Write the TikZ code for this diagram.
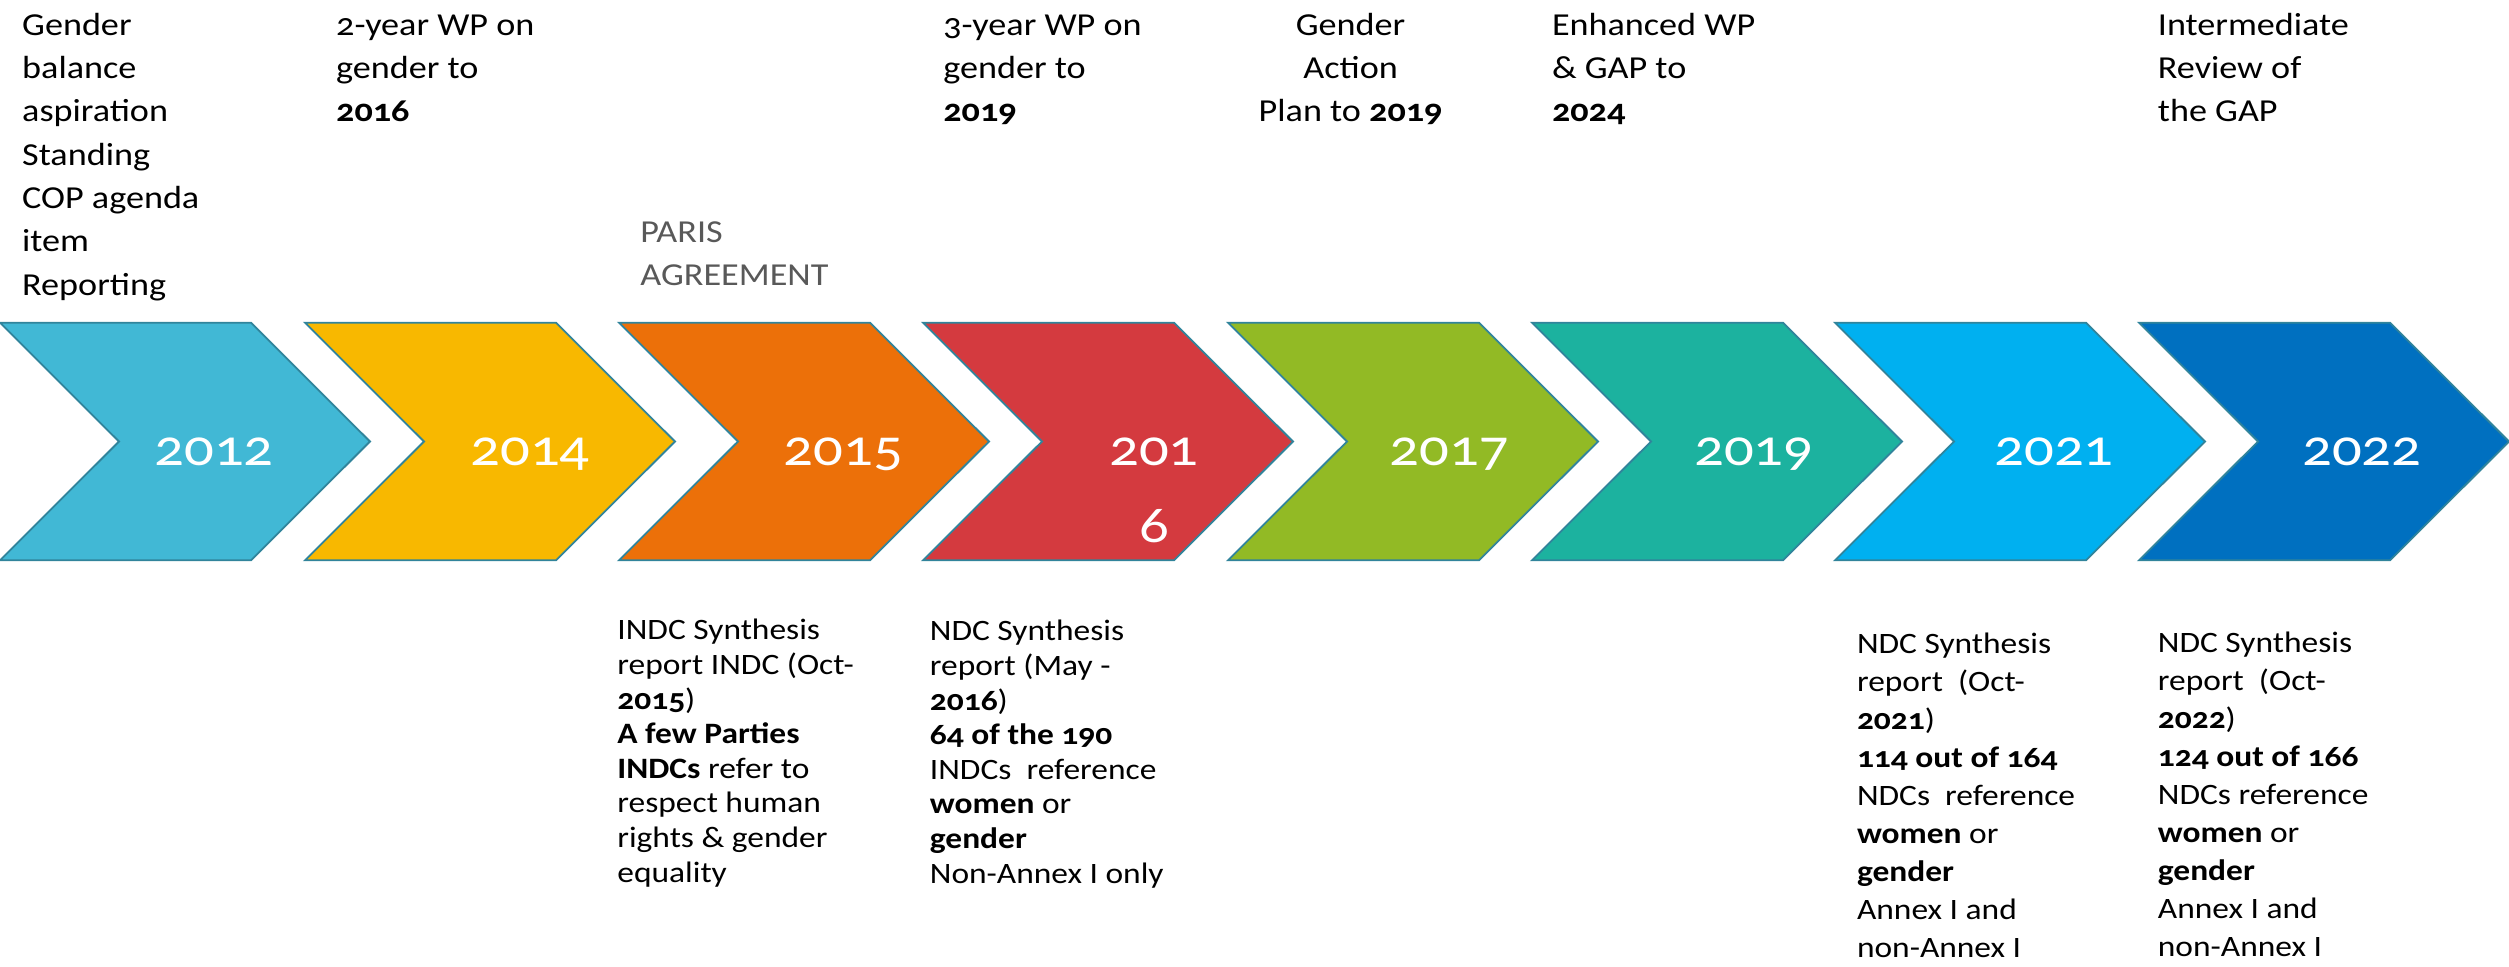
\documentclass[tikz,border=0pt]{standalone}
\usepackage{fontspec}
\setmainfont{Carlito}[FakeStretch=1.13,Numbers=OldStyle]
\usepackage{tikz}
\tikzset{>=latex}
\definecolor{chevedge}{HTML}{31849B}
\definecolor{c2012}{HTML}{41B8D5}
\definecolor{c2014}{HTML}{F8B800}
\definecolor{c2015}{HTML}{EC7009}
\definecolor{c2016}{HTML}{D43A3F}
\definecolor{c2017}{HTML}{92BA25}
\definecolor{c2019}{HTML}{1CB29F}
\definecolor{c2021}{HTML}{00B0F0}
\definecolor{c2022}{HTML}{0070C0}
\definecolor{parisgray}{HTML}{595959}

% base anchor of a multi-line node sits on its last line
\tikzset{
	yearlabel/.style={text=white,inner sep=0pt,anchor=base,font=\fontsize{26}{38.85}\selectfont},
	toptext/.style={anchor=base west,align=left,inner sep=0pt,font=\fontsize{16}{21.65}\selectfont},
	bottext/.style={anchor=base west,align=left,inner sep=0pt,font=\fontsize{14.8}{17.3}\selectfont},
}

\begin{document}
\begin{tikzpicture}[x=0.5pt,y=-0.5pt]
	\useasboundingbox (0,0) rectangle (2509,966);

	% chevrons
	\foreach \l/\c in {0/c2012,305/c2014,619/c2015,923/c2016,1228/c2017,1532/c2019,1835/c2021,2139/c2022}
		\filldraw[fill=\c,draw=chevedge,line width=0.9pt] (\l,322.7) -- ++(251,0) -- ++(119,118.8) -- ++(-119,118.8) -- ++(-251,0) -- ++(119,-118.8) -- cycle;

	\node[yearlabel] (y2012) at (214,465) {2012};
	\node[yearlabel] (y2014) at (530,465) {2014};
	\node[yearlabel] (y2015) at (843.5,465) {2015};
	\node[yearlabel,align=center] (y2016) at (1154,542.7) {201\\6};
	\node[yearlabel] (y2017) at (1449.5,465) {2017};
	\node[yearlabel] (y2019) at (1753.8,465) {2019};
	\node[yearlabel] (y2021) at (2054,465) {2021};
	\node[yearlabel] (y2022) at (2361.8,465) {2022};

	% above the chevrons
	\node[toptext] (goals) at (21.8,295) {Gender\\balance\\aspiration\\Standing\\COP agenda\\item\\Reporting};
	\node[toptext] (wp2y) at (335.8,121.6) {2-year WP on\\gender to\\\textbf{2016}};
	\node[toptext,text=parisgray] (paris) at (640,285.5) {PARIS\\AGREEMENT};
	\node[toptext] (wp3y) at (943,121.6) {3-year WP on\\gender to\\\textbf{2019}};
	\node[toptext,anchor=base,align=center] (gap19) at (1350.6,121.6) {Gender\\Action\\Plan to \textbf{2019}};
	\node[toptext] (gap24) at (1551.6,121.6) {Enhanced WP\\\& GAP to\\\textbf{2024}};
	\node[toptext] (review) at (2157.5,121.6) {Intermediate\\Review of\\the GAP};

	% below the chevrons
	\node[bottext] (indc15) at (617,882) {INDC Synthesis\\report INDC (Oct-\\\textbf{2015})\\\textbf{A few Parties}\\\textbf{INDCs} refer to\\respect human\\rights \& gender\\equality};
	\node[bottext] (ndc16) at (929.5,883) {NDC Synthesis\\report (May -\\\textbf{2016})\\\textbf{64 of the 190}\\INDCs~ reference\\\textbf{women} or\\\textbf{gender}\\Non-Annex I only};
	\node[bottext,font=\fontsize{14.8}{19}\selectfont] (ndc21) at (1856.6,957) {NDC Synthesis\\report~ (Oct-\\\textbf{2021})\\\textbf{114 out of 164}\\NDCs~ reference\\\textbf{women} or\\\textbf{gender}\\Annex I and\\non-Annex I};
	\node[bottext,font=\fontsize{14.8}{19}\selectfont] (ndc22) at (2157.5,956) {NDC Synthesis\\report~ (Oct-\\\textbf{2022})\\\textbf{124 out of 166}\\NDCs reference\\\textbf{women} or\\\textbf{gender}\\Annex I and\\non-Annex I};
\end{tikzpicture}
\end{document}
